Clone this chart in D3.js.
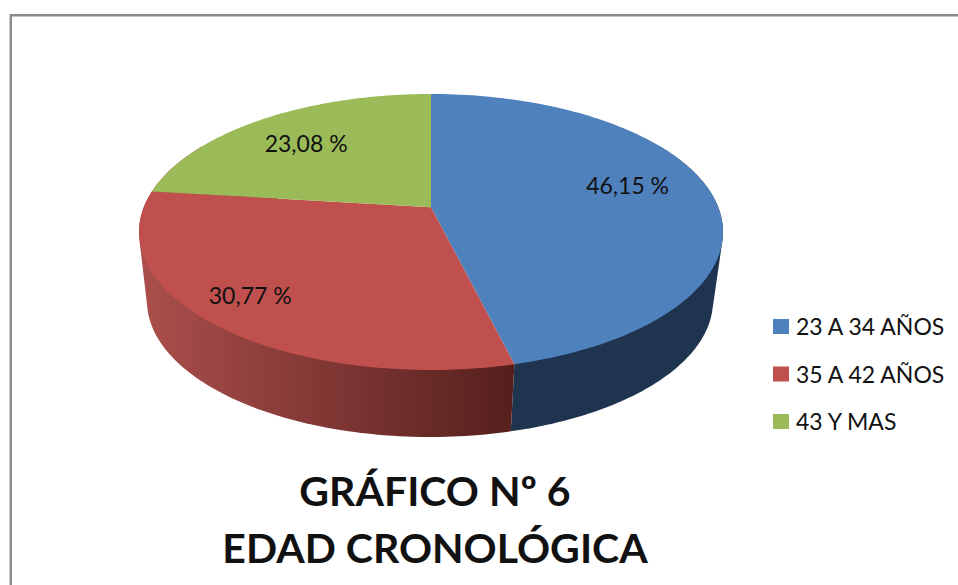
<!DOCTYPE html>
<html><head><meta charset="utf-8">
<script src="https://cdn.jsdelivr.net/npm/d3@7/dist/d3.min.js"></script>
<style>html,body{margin:0;padding:0;background:#fff}svg{display:block}text{font-family:Lato,"Open Sans",sans-serif;fill:#111}</style>
</head><body><svg id="c" width="958" height="585"></svg>
<script>
const categories = ["23 A 34 AÑOS", "35 A 42 AÑOS", "43 Y MAS"];
const values = [46.15, 30.77, 23.08];
const valueLabels = ["46,15 %", "30,77 %", "23,08 %"];
const colors = ["#4f81bd", "#c0504d", "#9bbb59"];
const titleLines = ["GRÁFICO Nº 6", "EDAD CRONOLÓGICA"];

const svg = d3.select("#c");
const W = 958, H = 585;
svg.append("path").attr("d", `M10.8 ${H}V15.3H${W}`).attr("fill", "none").attr("stroke", "#8c8c8c").attr("stroke-width", 2.4);

const persp = -0.18, s = Math.sqrt(1 - persp * persp);
const topX = d3.scaleLinear().domain([-1, 1]).range([139, 723]);
const topY = d3.scaleLinear().domain([-1, 1]).range([94, 370]);
const botX = d3.scaleLinear().domain([-1, 1]).range([147, 713]);
const botY = d3.scaleLinear().domain([-1, 1]).range([165, 437]);
function proj(a, r, sx, sy) {
  const u = r * Math.sin(a), v = -r * Math.cos(a), w = 1 + persp * v;
  return [sx(s * u / w), sy((v + persp) / w)];
}
function arcPts(a0, a1, sx, sy) {
  return d3.range(0, 121).map(i => proj(a0 + (a1 - a0) * i / 120, 1, sx, sy));
}
const line = d3.line();
const defs = svg.append("defs");
const grad = defs.append("linearGradient").attr("id", "redWall").attr("gradientUnits", "userSpaceOnUse")
  .attr("x1", 140).attr("x2", 512).attr("y1", 0).attr("y2", 0);
grad.append("stop").attr("offset", 0).attr("stop-color", "#ab4f4c");
grad.append("stop").attr("offset", 1).attr("stop-color", "#56201d");

const pie = d3.pie().sort(null).value(d => d);
const arcs = pie(values);
const rad = d => d * Math.PI / 180;

function wall(a0, a1, fill) {
  const hull = d3.polygonHull(arcPts(a0, a1, topX, topY).concat(arcPts(a0, a1, botX, botY)));
  svg.append("path").attr("d", line(hull) + "Z").attr("fill", fill);
}
wall(rad(60), arcs[0].endAngle, "#1f344f");
wall(arcs[1].startAngle, rad(300), "url(#redWall)");

arcs.forEach((d, i) => {
  const pts = [proj(0, 0, topX, topY)].concat(arcPts(d.startAngle, d.endAngle, topX, topY));
  svg.append("path").attr("d", line(pts) + "Z").attr("fill", colors[i]);
});

const labelRadius = [0.7, 0.85, 0.7];
const labelNudge = [[0, -11], [2, -8], [-3, 0]];
arcs.forEach((d, i) => {
  const p = proj((d.startAngle + d.endAngle) / 2, labelRadius[i], topX, topY);
  svg.append("text").attr("x", p[0] + labelNudge[i][0]).attr("y", p[1] + labelNudge[i][1])
    .attr("text-anchor", "middle").attr("dominant-baseline", "central")
    .attr("font-size", 23).text(valueLabels[i]);
});

const legendY = d3.scalePoint().domain(categories).range([326, 421]);
categories.forEach((c, i) => {
  const y = legendY(c);
  svg.append("rect").attr("x", 773).attr("y", y - 7).attr("width", 16).attr("height", 15).attr("fill", colors[i]);
  svg.append("text").attr("x", 796).attr("y", y + 9).attr("font-size", 23).text(c);
});

titleLines.forEach((t, i) => {
  svg.append("text").attr("x", 435).attr("y", 506 + i * 57).attr("text-anchor", "middle")
    .attr("font-weight", 700).attr("font-size", 41).text(t);
});
</script></body></html>
